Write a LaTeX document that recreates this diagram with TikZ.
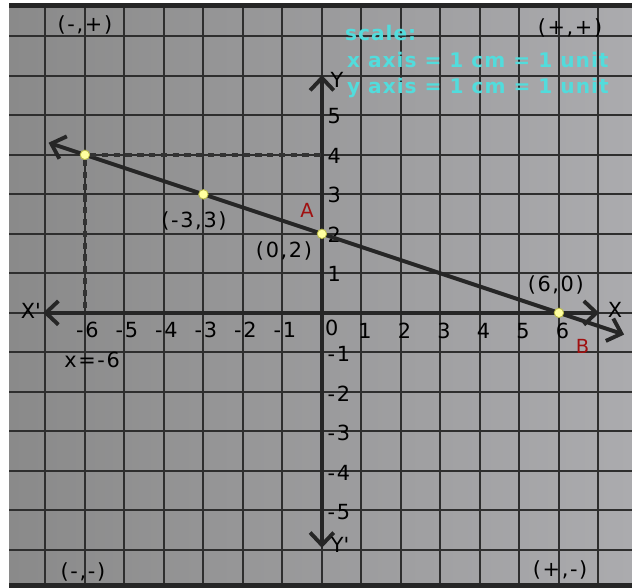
\documentclass[tikz,border=0pt]{standalone}
\usepackage{fontspec}
\setmainfont{DejaVu Sans}
\newfontfamily\plotfont[LetterSpace=8]{DejaVu Sans}
\newfontfamily\notefont[LetterSpace=5]{DejaVu Sans}
\usetikzlibrary{arrows.meta}
\definecolor{bgdark}{HTML}{8A8A8A}
\definecolor{bglight}{HTML}{ABABAE}
\definecolor{scalecyan}{HTML}{52DCDC}
\definecolor{markred}{HTML}{A01010}
\definecolor{ptyellow}{HTML}{FFFFA0}
\tikzset{
  gridline/.style = {line width=1.4pt, draw=black!82},
  barb/.style = {{Straight Barb[length=9pt,width=17pt]}-{Straight Barb[length=9pt,width=17pt]}},
  axis/.style = {line width=2.8pt, draw=black!85, barb},
  graphline/.style = {line width=2.8pt, draw=black!85, barb},
  guide/.style = {line width=2.6pt, draw=black!80, dash pattern=on 4.5pt off 4pt},
  pt/.style = {circle, fill=ptyellow, draw=ptyellow!45!olive, line width=0.6pt, minimum size=0.24cm, inner sep=0pt},
  lbl/.style = {font=\plotfont\fontsize{15}{17}\selectfont, inner sep=0pt},
  tag/.style = {font=\fontsize{14}{16}\selectfont, text=markred, inner sep=0pt},
  scaletxt/.style = {font=\notefont\bfseries\fontsize{14.5}{16}\selectfont, text=scalecyan, inner sep=0pt, anchor=west}
}
\begin{document}
\begin{tikzpicture}
\useasboundingbox (-8.15,-6.96) rectangle (7.85,7.92);
% paper
\fill[left color=bgdark, right color=bglight] (-7.92,-6.84) rectangle (7.85,7.72);
\fill[black!85] (-7.92,7.72) rectangle (7.85,7.84);
\fill[black!85] (-7.92,-6.84) rectangle (7.85,-6.96);
\draw[gridline] (-7.92,-6.84) grid (7.85,7.72);

% scale note
\node[scaletxt] (sc0) at (0.58,7.09) {scale:};
\node[scaletxt] (sc1) at (0.63,6.40) {x axis = 1 cm = 1 unit};
\node[scaletxt] (sc2) at (0.63,5.70) {y axis = 1 cm = 1 unit};

% quadrants
\node[lbl] (q2) at (-6.00,7.29) {(-,+)};
\node[lbl] (q1) at (6.28,7.22) {(+,+)};
\node[lbl] (q3) at (-6.05,-6.56) {(-,-)};
\node[lbl] (q4) at (6.03,-6.50) {(+,-)};

% axes
\coordinate (xl) at (-7.06,0);
\coordinate (xr) at (7.02,0);
\coordinate (yb) at (0,-5.95);
\coordinate (yt) at (0,6.02);
\draw[axis] (xl) -- (xr);
\draw[axis] (yb) -- (yt);
\node[lbl] (xlab) at (7.42,0.08) {X};
\node[lbl] (xplab) at (-7.37,0.05) {X\textquotesingle};
\node[lbl] (ylab) at (0.38,5.90) {Y};
\node[lbl] (yplab) at (0.46,-5.87) {Y\textquotesingle};

% ticks
\foreach \n in {-6,...,-1}
  \node[lbl] (tx\n) at (\n+0.06,-0.43) {\n};
\foreach \n in {1,...,6}
  \node[lbl] (tx\n) at (\n+0.09,-0.46) {\n};
\node[lbl] (t0) at (0.25,-0.38) {0};
\foreach \n in {1,...,5}
  \node[lbl, anchor=west] (ty\n) at (0.14,\n-0.02) {\n};
\foreach \n in {-5,...,-1}
  \node[lbl, anchor=west] (ty\n) at (0.14,\n-0.04) {\n};

% the line through the points
\coordinate (lnl) at (-6.92,4.307);
\coordinate (lnr) at (7.65,-0.55);
\draw[graphline] (lnl) -- (lnr);
\coordinate (d4) at (0,4);
\coordinate (d0) at (-6,0);
\node[pt] (p1) at (-6,4) {};
\draw[guide] (p1) -- (d4);
\draw[guide] (p1) -- (d0);
\node[pt] (p2) at (-3,3) {};
\node[pt] (pA) at (0,2) {};
\node[pt] (pB) at (6,0) {};

% point labels
\node[lbl] (l2) at (-3.24,2.33) {(-3,3)};
\node[lbl] (lA) at (-0.96,1.57) {(0,2)};
\node[lbl] (lB) at (5.92,0.71) {(6,0)};
\node[lbl] (lx) at (-5.82,-1.19) {x=-6};
\node[tag] (nA) at (-0.38,2.60) {A};
\node[tag] (nB) at (6.60,-0.86) {B};
\end{tikzpicture}
\end{document}
